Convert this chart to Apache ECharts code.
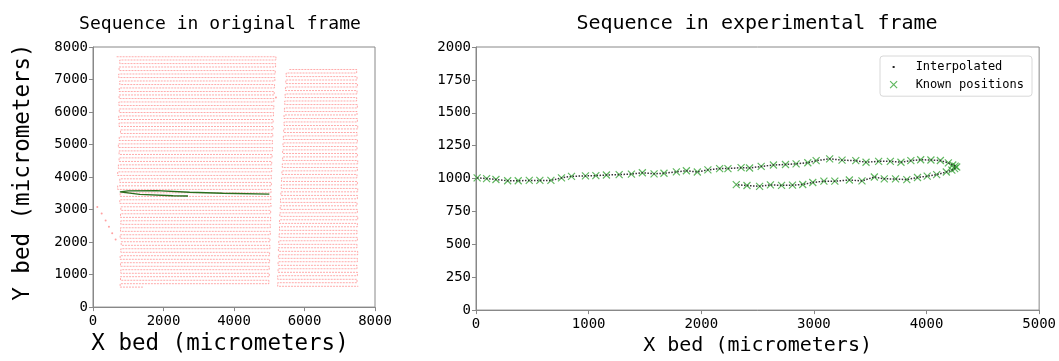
<!DOCTYPE html>
<html><head><meta charset="utf-8">
<script src="https://cdn.jsdelivr.net/npm/echarts@6/dist/echarts.min.js"></script>
<style>html,body{margin:0;padding:0;background:#fff}#c{width:1059px;height:361px}</style>
</head><body><div id="c"></div>
<script>
// ---------- Tick labels ----------
var leftXTicks = [0, 2000, 4000, 6000, 8000];
var leftYTicks = [0, 1000, 2000, 3000, 4000, 5000, 6000, 7000, 8000];
var rightXTicks = [0, 1000, 2000, 3000, 4000, 5000];
var rightYTicks = [0, 250, 500, 750, 1000, 1250, 1500, 1750, 2000];

// ---------- Original frame: raster scan, block A (left) ----------
var blockA_rowY = [7700, 7600, 7490, 7385, 7275, 7170, 7060, 6955, 6845, 6740,
  6630, 6525, 6415, 6310, 6200, 6095, 5985, 5880, 5770, 5665,
  5555, 5450, 5340, 5235, 5125, 5020, 4910, 4805, 4695, 4590,
  4480, 4375, 4265, 4160, 4050, 3945, 3835, 3730, 3620, 3515,
  3405, 3300, 3190, 3085, 2975, 2870, 2760, 2655, 2545, 2440,
  2330, 2225, 2115, 2010, 1900, 1795, 1685, 1580, 1470, 1365,
  1255, 1150, 1040, 935, 825, 720, 615];
var blockA_rightTurnX = [5190, 5180, 5170, 5160, 5150, 5140, 5130, 5130, 5120, 5110,
  5110, 5100, 5090, 5090, 5080, 5070, 5070, 5060, 5060, 5050,
  5050, 5050, 5040, 5040, 5030, 5030, 5020, 5020, 5010, 5010, 5000, 5000, 4990];
var blockA_leftTurnX = [760, 740, 730, 760, 745, 740, 735, 745, 730, 740,
  780, 745, 720, 740, 740, 720, 700, 760, 700, 770,
  760, 790, 780, 790, 780, 770, 800, 790, 770, 780, 790, 780, 770];
var blockA_startX = 670;
var blockA_endX = 1420;

// ---------- Original frame: raster scan, block B (right) ----------
var blockB_rowY = [7308, 7200, 7090, 6985, 6875, 6770, 6660, 6555, 6445, 6340,
  6230, 6125, 6015, 5910, 5800, 5695, 5585, 5480, 5370, 5265,
  5155, 5050, 4940, 4835, 4725, 4620, 4510, 4405, 4295, 4190,
  4080, 3975, 3865, 3760, 3650, 3545, 3435, 3330, 3220, 3115,
  3005, 2900, 2790, 2685, 2575, 2470, 2360, 2255, 2145, 2040,
  1930, 1825, 1715, 1610, 1500, 1395, 1285, 1180, 1070, 965,
  855, 750, 640];
var blockB_rightTurnX = [7480, 7490, 7500, 7490, 7480, 7500, 7490, 7500, 7510, 7490,
  7500, 7490, 7500, 7510, 7500, 7490, 7500, 7510, 7500, 7490,
  7500, 7510, 7500, 7490, 7500, 7490, 7510, 7500, 7490, 7500, 7490];
var blockB_leftTurnX = [5480, 5470, 5460, 5450, 5440, 5430, 5420, 5420, 5410, 5400,
  5390, 5380, 5380, 5370, 5360, 5350, 5340, 5330, 5320, 5310,
  5300, 5290, 5290, 5280, 5270, 5260, 5260, 5250, 5250, 5240, 5240];
var blockB_startX = 5570;
var blockB_endX = 7527;

// stray points
var strayX = [122, 246, 358, 452, 545, 642, 5190];
var strayY = [3075, 2882, 2667, 2473, 2269, 2082, 6450];

// highlighted sequence in original frame
var greenX = [2694, 2270, 1328, 763, 1000, 1800, 2742, 3683, 5003];
var greenY = [3416, 3425, 3466, 3545, 3575, 3582, 3533, 3504, 3474];

// ---------- Experimental frame: known positions ----------
var knownX = [10, 94, 177, 281, 375, 473, 567, 665, 759, 848,
  972, 1064, 1158, 1271, 1380, 1477, 1581, 1669, 1779, 1868,
  1965, 2059, 2163, 2237, 2354, 2429, 2532, 2641, 2748, 2842,
  2946, 3020, 3140, 3250, 3372, 3463, 3575, 3679, 3773, 3861,
  3948, 4039, 4123, 4194, 4233, 4254, 4268, 4250, 4225,
  4176, 4090, 4006, 3920, 3825, 3725, 3625, 3537, 3427, 3315,
  3186, 3089, 2990, 2901, 2810, 2713, 2614, 2518, 2406, 2311];
var knownY = [1005, 1000, 993, 983, 983, 986, 986, 986, 1005, 1017,
  1020, 1022, 1027, 1030, 1034, 1044, 1036, 1040, 1051, 1059,
  1050, 1066, 1076, 1076, 1083, 1080, 1092, 1103, 1107, 1112,
  1120, 1136, 1150, 1140, 1136, 1124, 1131, 1131, 1124, 1136,
  1143, 1141, 1137, 1119, 1103, 1095, 1088, 1075, 1064,
  1050, 1030, 1018, 1008, 992, 997, 998, 1012, 982, 989,
  980, 980, 970, 955, 950, 948, 952, 941, 947, 954];

// ---------- build helpers ----------
function serpentine(rowY, rightTurns, leftTurns, startX, endX) {
  var pts = [[startX, rowY[0]]];
  for (var i = 0; i < rowY.length; i++) {
    var ex;
    if (i === rowY.length - 1) ex = endX;
    else if (i % 2 === 0) ex = rightTurns[i / 2];
    else ex = leftTurns[(i - 1) / 2];
    pts.push([ex, rowY[i]]);
    if (i < rowY.length - 1) pts.push([ex, rowY[i + 1]]);
  }
  return pts;
}
function zip(a, b) { return a.map(function (v, i) { return [v, b[i]]; }); }

var FONT = 'DejaVu Sans Mono';
var AXC = '#888';
function axisCommon(ticks, gridIndex, name, nameGap, nameSize, isY, namePad) {
  return {
    type: 'value', gridIndex: gridIndex,
    min: ticks[0], max: ticks[ticks.length - 1], interval: ticks[1] - ticks[0],
    name: name, nameLocation: 'middle', nameGap: nameGap,
    nameTextStyle: { fontFamily: FONT, fontSize: nameSize, color: '#000', padding: namePad || 0 },
    axisLine: { show: true, onZero: false, lineStyle: { color: AXC, width: 1 } },
    axisTick: { show: true, length: 4, lineStyle: { color: AXC } },
    axisLabel: { fontFamily: FONT, fontSize: 14, color: '#000', margin: isY ? 5 : 7,
      formatter: function (v) { return String(v); } },
    splitLine: { show: false }
  };
}

var redStyle = { color: 'rgba(255,0,0,0.42)', width: 0.8, type: [2, 1] };
var xSymbol = 'path://M0,0L10,10M10,0L0,10';
var GREEN = '#3aa63a';

var option = {
  animation: false,
  backgroundColor: '#fff',
  graphic: [
    { type: 'text', x: 220, y: 24, style: { text: 'Sequence in original frame', fontFamily: FONT, fontSize: 18, fill: '#000', align: 'center', verticalAlign: 'middle' } },
    { type: 'text', x: 757, y: 24, style: { text: 'Sequence in experimental frame', fontFamily: FONT, fontSize: 20, fill: '#000', align: 'center', verticalAlign: 'middle' } }
  ],
  grid: [
    { left: 93, top: 47, width: 282, height: 275, show: true, borderColor: AXC, borderWidth: 1, backgroundColor: 'transparent' },
    { left: 476, top: 47, width: 566, height: 275, show: true, borderColor: AXC, borderWidth: 1, backgroundColor: 'transparent' }
  ],
  xAxis: [
    axisCommon(leftXTicks, 0, 'X bed (micrometers)', 20, 22.5, false, [0, 28, 0, 0]),
    axisCommon(rightXTicks, 1, 'X bed (micrometers)', 20, 20, false)
  ],
  yAxis: [
    axisCommon(leftYTicks, 0, 'Y bed (micrometers)', 58, 22.5, true, [0, 0, 0, 10]),
    axisCommon(rightYTicks, 1, '', 0, 20, true)
  ],
  legend: {
    orient: 'vertical', right: 27, top: 56,
    padding: [5, 8, 5, 6], itemGap: 5,
    itemWidth: 24, itemHeight: 12,
    backgroundColor: '#fff', borderColor: '#d8d8d8', borderWidth: 1, borderRadius: 3,
    textStyle: { fontFamily: FONT, fontSize: 12, color: '#000' },
    data: [
      { name: 'Interpolated', icon: 'path://M0,0M24,12M6,5h2v2h-2z', itemStyle: { color: '#222', borderWidth: 0 } },
      { name: 'Known positions', icon: 'path://M0,0M24,12M3.5,2.5L10.5,9.5M10.5,2.5L3.5,9.5', itemStyle: { color: 'rgba(0,0,0,0)', borderColor: GREEN, borderWidth: 1.2 } }
    ]
  },
  series: [
    { type: 'line', xAxisIndex: 0, yAxisIndex: 0, showSymbol: false, symbol: 'none', silent: true,
      data: serpentine(blockA_rowY, blockA_rightTurnX, blockA_leftTurnX, blockA_startX, blockA_endX),
      lineStyle: redStyle },
    { type: 'line', xAxisIndex: 0, yAxisIndex: 0, showSymbol: false, symbol: 'none', silent: true,
      data: serpentine(blockB_rowY, blockB_rightTurnX, blockB_leftTurnX, blockB_startX, blockB_endX),
      lineStyle: redStyle },
    { type: 'scatter', xAxisIndex: 0, yAxisIndex: 0, symbolSize: 2, silent: true,
      data: zip(strayX, strayY), itemStyle: { color: 'rgba(255,40,40,0.55)' } },
    { type: 'line', xAxisIndex: 0, yAxisIndex: 0, showSymbol: false, symbol: 'none', silent: true,
      data: zip(greenX, greenY), lineStyle: { color: '#2a6e1e', width: 1.4 } },
    { name: 'Interpolated', type: 'line', xAxisIndex: 1, yAxisIndex: 1, showSymbol: false, symbol: 'none', silent: true,
      data: zip(knownX, knownY), lineStyle: { color: '#333', width: 1.5, type: [1.5, 1.5] }, itemStyle: { color: '#222' } },
    { name: 'Known positions', type: 'scatter', xAxisIndex: 1, yAxisIndex: 1, silent: true,
      symbol: xSymbol, symbolSize: 7, data: zip(knownX, knownY),
      itemStyle: { color: 'rgba(0,0,0,0)', borderColor: GREEN, borderWidth: 1.2 } }
  ]
};
var chart = echarts.init(document.getElementById('c'), null, { renderer: 'canvas' });
chart.setOption(option);
</script></body></html>
